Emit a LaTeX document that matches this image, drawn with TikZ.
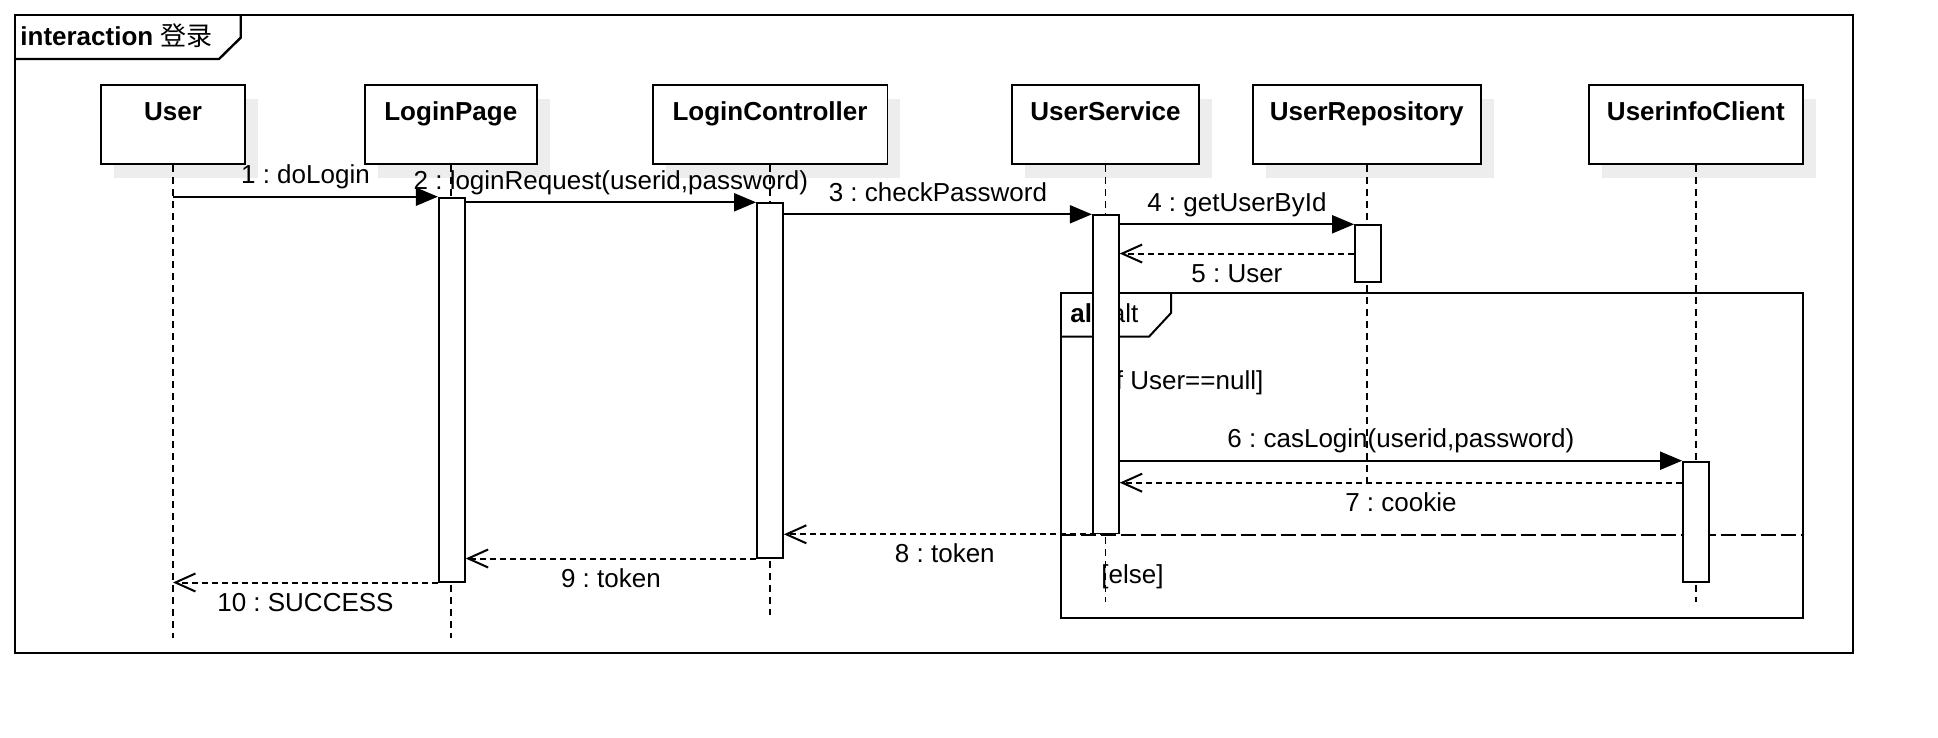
\documentclass[tikz,border=0pt]{standalone}
\usepackage{fontspec}
\setmainfont{Liberation Sans}
\newfontfamily\cjk{Noto Sans CJK SC}
\usetikzlibrary{arrows.meta,shadows}
\newcommand\sz{\fontsize{13}{15}\selectfont}
\frenchspacing

\begin{document}
\begin{tikzpicture}[x=0.5pt, y=-0.5pt, font=\sz,
    part/.style={draw, line width=0.9pt, fill=white, anchor=north, inner ysep=0pt,
      text height=17.5pt, text depth=21.85pt, font=\sz\bfseries,
      general shadow={fill=black!7, shadow xshift=6.5pt, shadow yshift=-7pt}},
    bar/.style={draw, line width=0.9pt, fill=white, anchor=north, minimum width=13pt, inner sep=0pt},
    life/.style={line width=0.85pt, dash pattern=on 3.5pt off 2.5pt},
    msg/.style={line width=1pt, -{Triangle[length=11pt,width=9pt]}},
    ret/.style={line width=1pt, dash pattern=on 3pt off 2pt, -{Straight Barb[length=10pt,width=9pt]}},
    up/.style={anchor=base, yshift=6.5pt},
    down/.style={anchor=base, yshift=-14.25pt},
    txt/.style={anchor=base west, inner sep=0pt}]
    \useasboundingbox (0,0) rectangle (1938,738);

    % frame
    \draw[line width=1.2pt] (14.8,15) rectangle (1852.8,652.7);
    \draw[line width=1.2pt] (14.8,59) -- (219,59) -- (240.7,37.7) -- (240.7,15);
    \node[txt, font=\sz\bfseries] (title) at (20,45.5) {interaction {\cjk\mdseries 登录}};

    % participants
    \node[part, minimum width=72.35pt] (user) at (173,84.3) {User};
    \node[part, minimum width=86.2pt] (page) at (450.8,84.3) {LoginPage};
    \node[part, minimum width=117.4pt] (ctrl) at (770,84.3) {LoginController};
    \node[part, minimum width=93.5pt] (svc) at (1105.5,84.3) {UserService};
    \node[part, minimum width=114pt] (repo) at (1366.7,84.3) {UserRepository};
    \node[part, minimum width=106.9pt] (info) at (1695.8,84.3) {UserinfoClient};

    \foreach \n/\e in {user/638, page/638, ctrl/615, svc/602, repo/483, info/602}
      \draw[life] (\n.south) -- (\n.south |- 0,\e);

    % alt fragment
    \draw[line width=1pt] (1060.5,292.7) rectangle (1802.7,618.3);
    \draw[line width=1pt] (1060.5,336.7) -- (1149,336.7) -- (1171,313) -- (1171,292.7);
    \node[txt, font=\sz\bfseries] (alt) at (1070,322.8) {alt};
    \node[txt] (alt2) at (1110.5,322.8) {alt};
    \node[txt] (guard1) at (1102.5,389.3) {[if User==null]};
    \draw[line width=1pt, dash pattern=on 7.5pt off 2.5pt] (1060.5,534.7) -- (1802.7,534.7);
    \node[txt] (guard2) at (1101,583) {[else]};

    % activations
    \node[bar, minimum height=192pt] (a-page) at (451.8,196.7) {};
    \node[bar, minimum height=177.2pt] (a-ctrl) at (770,202.3) {};
    \node[bar, minimum height=159.1pt] (a-svc) at (1105.8,214.3) {};
    \node[bar, minimum height=28.35pt] (a-repo) at (1368,224.3) {};
    \node[bar, minimum height=60pt] (a-info) at (1696,460.7) {};

    % messages
    \draw[msg] (user.south |- a-page.north) to node[up] {1 : doLogin} (a-page.north west);
    \draw[msg] (a-page.east |- a-ctrl.north) to node[up] {2 : loginRequest(userid,password)} (a-ctrl.north west);
    \draw[msg] (a-ctrl.east |- a-svc.north) to node[up] {3 : checkPassword} (a-svc.north west);
    \draw[msg] (a-svc.east |- a-repo.north) to node[up] {4 : getUserById} (a-repo.north west);
    \draw[ret] (a-repo.west) to node[down] {5 : User} (a-svc.east |- a-repo.west);
    \draw[msg] (a-svc.east |- a-info.north) to node[up] {6 : casLogin(userid,password)} (a-info.north west);
    \coordinate (r7) at ([yshift=-11pt]a-info.north west);
    \draw[ret] (r7) to node[down] {7 : cookie} (a-svc.east |- r7);
    \draw[ret] (a-svc.south) to node[down] {8 : token} (a-ctrl.east |- a-svc.south);
    \draw[ret] (a-ctrl.south west) to node[down] {9 : token} (a-page.east |- a-ctrl.south);
    \draw[ret] (a-page.south west) to node[down] {10 : SUCCESS} (user.south |- a-page.south);
  \end{tikzpicture}
\end{document}
